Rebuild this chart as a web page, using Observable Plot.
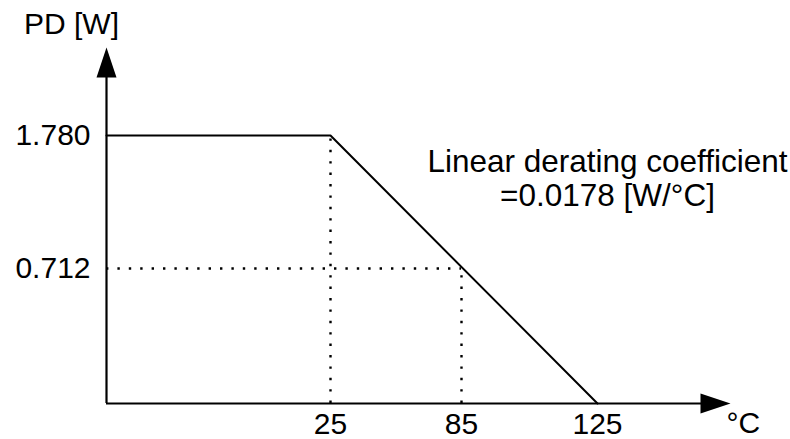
<!DOCTYPE html>
<html>
<head>
<meta charset="utf-8">
<script src="https://cdn.jsdelivr.net/npm/d3@7"></script>
<script src="https://cdn.jsdelivr.net/npm/@observablehq/plot@0.6"></script>
<style>
  html, body { margin: 0; padding: 0; background: #fff; }
  #chart { width: 790px; height: 439px; }
</style>
</head>
<body>
<div id="chart"></div>
<script>
// ---- data ----
const axisTemp = [-50, 175];          // x-axis extent (origin, arrow tip), °C
const axisPower = [0, 2.5];           // y-axis extent (origin, arrow tip), W
const tempTicks = [25, 85, 125];
const powerTicks = [0.712, 1.780];
const curveTemp = [-50, 25, 125];
const curvePower = [1.780, 1.780, 0];
const kneeTemp = 25, kneePower = 1.780;
const markTemp = 85, markPower = 0.712;
const yLabel = "PD [W]";
const xLabel = "°C";
const note = "Linear derating coefficient\n=0.0178 [W/°C]";

const curve = curveTemp.map((t, i) => ({t, p: curvePower[i]}));

const upArrow = {draw(c) { c.moveTo(0, 0); c.lineTo(10, 30); c.lineTo(-10, 30); c.closePath(); }};
const rightArrow = {draw(c) { c.moveTo(0, 0); c.lineTo(-30, -10); c.lineTo(-30, 10); c.closePath(); }};

const font = "'Liberation Sans', Arial, Helvetica, sans-serif";
const dots = "2.4,9";

const chart = Plot.plot({
  width: 790,
  height: 439,
  marginLeft: 106,
  marginRight: 60,
  marginTop: 47,
  marginBottom: 36,
  style: {fontFamily: font, background: "#fff", color: "#000", overflow: "visible"},
  x: {type: "linear", domain: [axisTemp[0], 25, 85, 125, axisTemp[1]], range: [106, 330, 461, 597, 730]},
  y: {type: "linear", domain: [axisPower[0], 0.712, 1.78, axisPower[1]], range: [403, 268, 135, 47]},
  marks: [
    // dotted guides
    Plot.ruleX([kneeTemp], {y1: axisPower[0], y2: kneePower, stroke: "#000", strokeWidth: 2.4, strokeDasharray: dots}),
    Plot.ruleY([markPower], {x1: axisTemp[0], x2: markTemp, stroke: "#000", strokeWidth: 2.4, strokeDasharray: dots}),
    Plot.ruleX([markTemp], {y1: axisPower[0], y2: markPower, stroke: "#000", strokeWidth: 2.4, strokeDasharray: dots}),
    // derating curve
    Plot.line(curve, {x: "t", y: "p", stroke: "#000", strokeWidth: 2}),
    // axes lines with arrows
    Plot.ruleY([axisPower[0]], {x1: axisTemp[0], x2: 170, stroke: "#000", strokeWidth: 2.2}),
    Plot.ruleX([axisTemp[0]], {y1: axisPower[0], y2: 2.4, stroke: "#000", strokeWidth: 2.2}),
    Plot.dot([[axisTemp[0], axisPower[1]]], {x: d => d[0], y: d => d[1], symbol: upArrow, fill: "#000", stroke: "none"}),
    Plot.dot([[axisTemp[1], axisPower[0]]], {x: d => d[0], y: d => d[1], symbol: rightArrow, fill: "#000", stroke: "none"}),
    // tick labels
    Plot.axisX({ticks: tempTicks, tickSize: 0, tickPadding: 9, fontSize: 30, label: null, tickFormat: d => String(d)}),
    Plot.axisY({ticks: powerTicks, tickSize: 0, tickPadding: 16, fontSize: 30, label: null, tickFormat: d3.format(".3f")}),
    // labels
    Plot.text([yLabel], {frameAnchor: "top-left", dx: -35, dy: -14, lineAnchor: "bottom", textAnchor: "middle", fontSize: 30, fill: "#000"}),
    Plot.text([xLabel], {frameAnchor: "bottom-left", dx: 620, dy: 29, lineAnchor: "bottom", textAnchor: "start", fontSize: 30, fill: "#000"}),
    Plot.text([note], {frameAnchor: "top-left", dx: 501, dy: 158, lineAnchor: "bottom", textAnchor: "middle", fontSize: 31.5, lineHeight: 1.05, fill: "#000"})
  ]
});
document.getElementById("chart").appendChild(chart);
</script>
</body>
</html>
